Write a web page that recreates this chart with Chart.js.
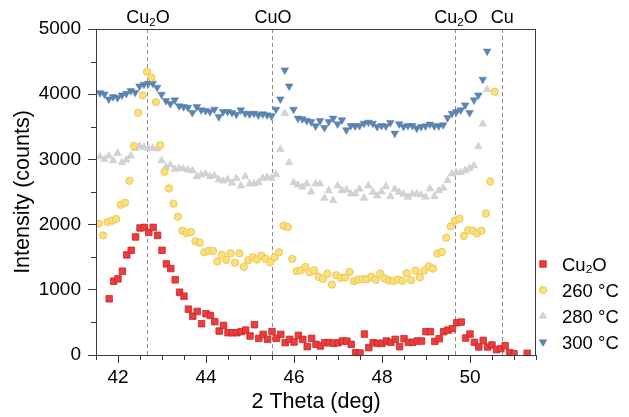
<!DOCTYPE html>
<html><head><meta charset="utf-8">
<script src="https://cdn.jsdelivr.net/npm/chart.js@4.4.0/dist/chart.umd.min.js"></script>
<style>html,body{margin:0;padding:0;background:#fff;}canvas{display:block;}</style>
</head><body>
<canvas id="c" width="629" height="417" style="width:629px;height:417px"></canvas>
<script>
// ---------------- data ----------------
const seriesLabels = ['Cu₂O', '260 °C', '280 °C', '300 °C'];

const cu2oX = [41.8,41.9,42.0,42.1,42.2,42.3,42.4,42.5,42.6,42.7,42.8,42.9,43.0,43.1,43.2,43.3,43.4,43.5,43.6,43.7,43.8,43.9,44.0,44.1,44.2,44.3,44.4,44.5,44.6,44.7,44.8,44.9,45.0,45.1,45.2,45.3,45.4,45.5,45.6,45.7,45.8,45.9,46.0,46.1,46.2,46.3,46.4,46.5,46.6,46.7,46.8,46.9,47.0,47.1,47.2,47.3,47.4,47.5,47.6,47.7,47.8,47.9,48.0,48.1,48.2,48.3,48.4,48.5,48.6,48.7,48.8,48.9,49.0,49.1,49.2,49.3,49.4,49.5,49.6,49.7,49.8,49.9,50.0,50.1,50.2,50.3,50.4,50.5,50.6,50.7,50.8,50.9,51.0,51.3];
const cu2oY = [862,1132,1168,1285,1535,1606,1810,1948,1957,1881,1957,1835,1606,1397,1326,1153,963,902,703,596,668,480,633,607,511,367,454,342,342,342,358,382,291,465,255,316,240,358,255,316,189,240,199,301,240,128,255,164,138,189,189,179,189,214,214,164,36,31,321,113,189,179,179,214,194,240,128,250,194,194,214,214,358,358,209,250,358,382,403,495,505,260,321,194,123,224,123,153,82,97,143,36,20,26];

const t260X = [41.56,41.66,41.76,41.86,41.96,42.06,42.16,42.26,42.36,42.46,42.56,42.66,42.76,42.86,42.96,43.06,43.16,43.26,43.36,43.46,43.56,43.66,43.76,43.86,43.96,44.06,44.16,44.26,44.36,44.46,44.56,44.66,44.76,44.86,44.96,45.06,45.16,45.26,45.36,45.46,45.56,45.66,45.76,45.86,45.96,46.06,46.16,46.26,46.36,46.46,46.56,46.66,46.76,46.86,46.96,47.06,47.16,47.26,47.36,47.46,47.56,47.66,47.76,47.86,47.96,48.06,48.16,48.26,48.36,48.46,48.56,48.66,48.76,48.86,48.96,49.06,49.16,49.26,49.36,49.46,49.56,49.66,49.76,49.86,49.96,50.06,50.16,50.26,50.36,50.46,50.56];
const t260Y = [2014,1835,2040,2060,2085,2304,2335,2671,3206,3716,3982,4343,4257,3879,3217,2809,2554,2320,2121,1907,1871,1887,1743,1723,1575,1601,1596,1433,1540,1458,1560,1413,1560,1352,1453,1499,1463,1524,1474,1422,1499,1575,1983,1963,1474,1285,1300,1352,1269,1300,1198,1168,1249,1081,1223,1183,1188,1275,1132,1158,1163,1163,1198,1153,1249,1173,1142,1137,1158,1137,1254,1147,1295,1193,1295,1361,1326,1555,1581,1800,1973,2064,2090,1826,1917,1907,1866,1907,2171,2661,4037];

const t280X = [41.59,41.69,41.79,41.89,41.99,42.09,42.19,42.29,42.39,42.49,42.59,42.69,42.79,42.89,42.99,43.09,43.19,43.29,43.39,43.49,43.59,43.69,43.79,43.89,43.99,44.09,44.19,44.29,44.39,44.49,44.59,44.69,44.79,44.89,44.99,45.09,45.19,45.29,45.39,45.49,45.59,45.69,45.79,45.89,45.99,46.09,46.19,46.29,46.39,46.49,46.59,46.69,46.79,46.89,46.99,47.09,47.19,47.29,47.39,47.49,47.59,47.69,47.79,47.89,47.99,48.09,48.19,48.29,48.39,48.49,48.59,48.69,48.79,48.89,48.99,49.09,49.19,49.29,49.39,49.49,49.59,49.69,49.79,49.89,49.99,50.09,50.19,50.29,50.39];
const t280Y = [3043,3003,3053,2982,3094,2951,2992,3053,3171,3206,3186,3171,3171,3161,2982,2880,2916,2850,2865,2855,2839,2829,2737,2763,2778,2737,2752,2690,2670,2692,2636,2710,2595,2737,2626,2626,2646,2712,2728,2712,2768,3156,3706,2951,2646,2610,2575,2626,2503,2626,2626,2407,2523,2370,2595,2523,2534,2473,2473,2544,2407,2595,2497,2442,2503,2584,2432,2544,2497,2468,2422,2468,2473,2457,2422,2549,2432,2523,2559,2676,2778,2798,2800,2830,2865,2901,3196,3543,4073];

const t300X = [41.59,41.69,41.79,41.89,41.99,42.09,42.19,42.29,42.39,42.49,42.59,42.69,42.79,42.89,42.99,43.09,43.19,43.29,43.39,43.49,43.59,43.69,43.79,43.89,43.99,44.09,44.19,44.29,44.39,44.49,44.59,44.69,44.79,44.89,44.99,45.09,45.19,45.29,45.39,45.49,45.59,45.69,45.79,45.89,45.99,46.09,46.19,46.29,46.39,46.49,46.59,46.69,46.79,46.89,46.99,47.09,47.19,47.29,47.39,47.49,47.59,47.69,47.79,47.89,47.99,48.09,48.19,48.29,48.39,48.49,48.59,48.69,48.79,48.89,48.99,49.09,49.19,49.29,49.39,49.49,49.59,49.69,49.79,49.89,49.99,50.09,50.19,50.29,50.39];
const t300Y = [4021,4001,3925,3960,3945,3986,4011,4052,4027,4124,4150,4165,4165,4104,3996,3899,3853,3910,3818,3807,3797,3716,3807,3757,3746,3731,3767,3654,3731,3731,3716,3690,3757,3706,3696,3706,3680,3696,3680,3665,3767,3925,4369,4124,3767,3630,3619,3593,3578,3512,3593,3486,3578,3630,3543,3604,3451,3517,3512,3517,3553,3568,3553,3502,3517,3510,3563,3400,3543,3502,3517,3517,3477,3502,3512,3538,3512,3512,3528,3639,3706,3731,3757,3833,3716,3910,3986,4226,4659];

// reference peak positions (dashed lines) and their labels
const peakPositions = [42.67, 45.51, 49.67, 50.72];
const peakLabels = ['Cu₂O', 'CuO', 'Cu₂O', 'Cu'];

const xTitle = '2 Theta (deg)';
const yTitle = 'Intensity (counts)';

// ---------------- helpers ----------------
const FONT = '"Liberation Sans", Arial, Helvetica, sans-serif';
const SUB = {'₀':'0','₁':'1','₂':'2','₃':'3','₄':'4','₅':'5','₆':'6','₇':'7','₈':'8','₉':'9'};

function drawRich(ctx, text, x, y, size, align, color) {
  const parts = [];
  for (const ch of text) {
    const s = SUB[ch];
    if (s) parts.push({t: s, sub: true});
    else if (parts.length && !parts[parts.length - 1].sub) parts[parts.length - 1].t += ch;
    else parts.push({t: ch, sub: false});
  }
  const subSize = size * 0.64;
  let total = 0;
  parts.forEach(p => {
    ctx.font = (p.sub ? subSize : size) + 'px ' + FONT;
    p.w = ctx.measureText(p.t).width;
    total += p.w;
  });
  let cx = align === 'center' ? x - total / 2 : x;
  ctx.save();
  ctx.fillStyle = color || '#000';
  ctx.textAlign = 'left';
  ctx.textBaseline = 'alphabetic';
  parts.forEach(p => {
    ctx.font = (p.sub ? subSize : size) + 'px ' + FONT;
    ctx.fillText(p.t, cx, p.sub ? y + size * 0.14 : y);
    cx += p.w;
  });
  ctx.restore();
}

function drawMarker(ctx, ds, x, y) {
  const r = ds.pointRadius, rot = (ds.pointRotation || 0) * Math.PI / 180;
  ctx.save();
  ctx.fillStyle = ds.backgroundColor;
  ctx.strokeStyle = ds.borderColor;
  ctx.lineWidth = ds.borderWidth;
  ctx.beginPath();
  if (ds.pointStyle === 'rect') {
    const s = Math.SQRT1_2 * r;
    ctx.rect(x - s, y - s, 2 * s, 2 * s);
  } else if (ds.pointStyle === 'triangle') {
    let a = rot;
    for (let i = 0; i < 3; i++) {
      const px = x + Math.sin(a) * r, py = y - Math.cos(a) * r;
      if (i) ctx.lineTo(px, py); else ctx.moveTo(px, py);
      a += 2 * Math.PI / 3;
    }
    ctx.closePath();
  } else {
    ctx.arc(x, y, r, 0, Math.PI * 2);
  }
  ctx.fill();
  if (ds.borderWidth > 0) ctx.stroke();
  ctx.restore();
}

const isMajor = (v, step) => Math.abs(v / step - Math.round(v / step)) < 1e-6;

const AXIS_COLOR = '#3a3a3a';

const decorPlugin = {
  id: 'decor',
  beforeDatasetsDraw(chart) {
    const {ctx, chartArea: a, scales: {x}} = chart;
    ctx.save();
    ctx.strokeStyle = '#8c8c8c';
    ctx.lineWidth = 1;
    ctx.setLineDash([4, 3]);
    peakPositions.forEach(p => {
      const px = Math.round(x.getPixelForValue(p)) + 0.5;
      ctx.beginPath();
      ctx.moveTo(px, a.top);
      ctx.lineTo(px, a.bottom);
      ctx.stroke();
    });
    ctx.restore();
  },
  afterDraw(chart) {
    const {ctx, chartArea: a, scales: {x, y}} = chart;
    // frame
    ctx.save();
    ctx.strokeStyle = AXIS_COLOR;
    ctx.lineWidth = 1;
    ctx.strokeRect(Math.round(a.left) + 0.5, Math.round(a.top) + 0.5, Math.round(a.right - a.left) - 1, Math.round(a.bottom - a.top));
    // minor ticks
    ctx.beginPath();
    x.ticks.forEach(t => {
      if (isMajor(t.value, 2)) return;
      const px = Math.round(x.getPixelForValue(t.value)) + 0.5;
      ctx.moveTo(px, a.bottom);
      ctx.lineTo(px, a.bottom + 5);
    });
    y.ticks.forEach(t => {
      if (isMajor(t.value, 1000)) return;
      const py = Math.round(y.getPixelForValue(t.value)) + 0.5;
      ctx.moveTo(a.left, py);
      ctx.lineTo(a.left - 5, py);
    });
    ctx.stroke();
    ctx.restore();
    // peak labels
    peakPositions.forEach((p, i) => {
      drawRich(ctx, peakLabels[i], x.getPixelForValue(p) + 0.5, 23, 18, 'center', '#000');
    });
    // legend
    chart.data.datasets.forEach((ds, i) => {
      const cy = 264 + i * 26;
      drawMarker(ctx, ds, 543, cy);
      drawRich(ctx, ds.label, 562, cy + 6.5, 18.5, 'left', '#000');
    });
  }
};

function pts(xs, ys) { return xs.map((v, i) => ({x: v, y: ys[i]})); }

const datasets = [
  {label: seriesLabels[0], data: pts(cu2oX, cu2oY), pointStyle: 'rect', pointRadius: 4.6, pointRotation: 0,
   backgroundColor: '#ef3b3b', borderColor: '#c02828', borderWidth: 0.8},
  {label: seriesLabels[1], data: pts(t260X, t260Y), pointStyle: 'circle', pointRadius: 3.7, pointRotation: 0,
   backgroundColor: '#fbe07a', borderColor: '#e4c052', borderWidth: 0.8},
  {label: seriesLabels[2], data: pts(t280X, t280Y), pointStyle: 'triangle', pointRadius: 4.4, pointRotation: 0,
   backgroundColor: '#d3d3d3', borderColor: '#c6c6c6', borderWidth: 0.5},
  {label: seriesLabels[3], data: pts(t300X, t300Y), pointStyle: 'triangle', pointRadius: 4.4, pointRotation: 180,
   backgroundColor: '#5b85b4', borderColor: '#4f78a6', borderWidth: 0.5}
];
datasets.forEach(d => { d.showLine = false; d.pointHoverRadius = d.pointRadius; d.pointBackgroundColor = d.backgroundColor; d.pointBorderColor = d.borderColor; d.pointBorderWidth = d.borderWidth; });

new Chart(document.getElementById('c'), {
  type: 'scatter',
  data: {datasets},
  options: {
    responsive: false,
    animation: false,
    devicePixelRatio: 1,
    layout: {padding: {top: 29, right: 93, left: 0, bottom: 0}},
    plugins: {legend: {display: false}, tooltip: {enabled: false}},
    scales: {
      x: {
        type: 'linear', min: 41.5, max: 51.5,
        ticks: {stepSize: 0.5, autoSkip: false, maxRotation: 0, padding: 3, color: '#000',
                font: {size: 19, family: FONT},
                callback: v => isMajor(v, 2) ? String(Math.round(v)) : ''},
        grid: {drawOnChartArea: false, tickLength: 8, tickWidth: 1,
               tickColor: c => (c.tick && isMajor(c.tick.value, 2)) ? AXIS_COLOR : 'rgba(0,0,0,0)'},
        border: {display: true, color: AXIS_COLOR, width: 1},
        title: {display: true, text: xTitle, color: '#000', font: {size: 21.5, family: FONT}, padding: {top: 0, bottom: 1.6}},
        afterFit: s => { s.height = 62; }
      },
      y: {
        type: 'linear', min: 0, max: 5000,
        ticks: {stepSize: 500, autoSkip: false, padding: 7, color: '#000',
                font: {size: 19, family: FONT},
                callback: v => isMajor(v, 1000) ? String(v) : ''},
        grid: {drawOnChartArea: false, tickLength: 8, tickWidth: 1,
               tickColor: c => (c.tick && isMajor(c.tick.value, 1000)) ? AXIS_COLOR : 'rgba(0,0,0,0)'},
        border: {display: true, color: AXIS_COLOR, width: 1},
        title: {display: true, text: yTitle, color: '#000', font: {size: 21.5, family: FONT}, padding: {top: 10, bottom: 0}},
        afterFit: s => { s.width = 96; }
      }
    }
  },
  plugins: [decorPlugin]
});
</script>
</body></html>
